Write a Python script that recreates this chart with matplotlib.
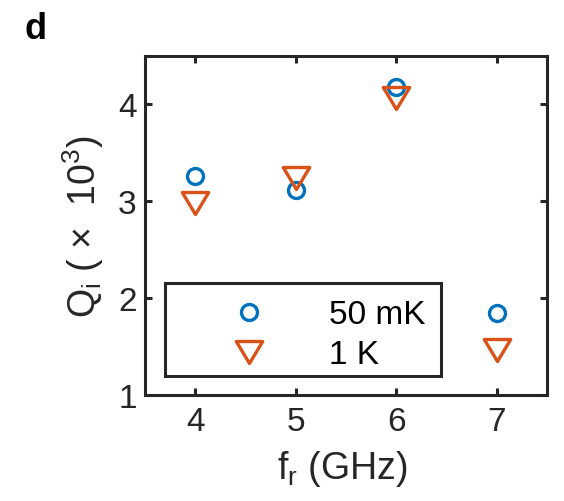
import matplotlib
matplotlib.use("Agg")
import matplotlib.pyplot as plt
from matplotlib.path import Path
from matplotlib.patches import Rectangle

plt.rcParams['font.family'] = ['Liberation Sans', 'DejaVu Sans']
plt.rcParams['mathtext.fontset'] = 'custom'
plt.rcParams['mathtext.rm'] = 'Liberation Sans'
plt.rcParams['mathtext.it'] = 'Liberation Sans:italic'

# Resonance frequency (GHz) and internal quality factor (x 10^3)
freq = [4, 5, 6, 7]
qi_50mk = [3.26, 3.12, 4.18, 1.85]
qi_1k = [2.98, 3.24, 4.07, 1.46]
series_labels = ['50 mK', '1 K']
xticks = [4, 5, 6, 7]
yticks = [1, 2, 3, 4]

blue = '#0072BD'
orange = '#D95319'
ink = '#262626'

# wide downward triangle, MATLAB-like
tri = Path([(-1.2, 1.0), (1.2, 1.0), (0.0, -1.0), (-1.2, 1.0)],
           [Path.MOVETO, Path.LINETO, Path.LINETO, Path.CLOSEPOLY])

W, H = 564, 502
fig = plt.figure(figsize=(W / 100, H / 100), dpi=100)
ax = fig.add_axes([145 / W, 1 - 396 / H, 402 / W, 339 / H])

ax.plot(freq, qi_50mk, linestyle='none', marker='o', markersize=11.5,
        markerfacecolor='none', markeredgecolor=blue, markeredgewidth=2.4,
        label=series_labels[0])
ax.plot(freq, qi_1k, linestyle='none', marker=tri, markersize=19,
        markerfacecolor='none', markeredgecolor=orange, markeredgewidth=2.4,
        label=series_labels[1])

ax.set_xlim(3.5, 7.5)
ax.set_ylim(1, 4.5)
ax.set_xticks(xticks)
ax.set_yticks(yticks)

for s in ax.spines.values():
    s.set_linewidth(2.2)
    s.set_color(ink)
ax.tick_params(direction='in', length=5, width=2.2, color=ink,
               labelsize=24, top=True, right=True, pad=8, labelcolor=ink)
ax.tick_params(axis='y', pad=6)

ax.set_xlabel(r'f$_\mathregular{r}$ (GHz)', fontsize=27, color=ink)
ax.xaxis.set_label_coords(0.492, -0.155)
ax.set_ylabel('Q$_\\mathregular{i}$ ( \u00d7  10$^\\mathregular{3}$)', fontsize=27,
              color=ink)
ax.yaxis.set_label_coords(-0.097, 0.5)

leg = ax.legend(loc='upper left', bbox_to_anchor=(0.0498, 0.307), borderaxespad=0,
                fontsize=24, frameon=False,
                handlelength=4.54, handletextpad=0.13, borderpad=0.25,
                labelspacing=0.27)
for t in leg.get_texts():
    t.set_color('black')

# legend box
ax.add_patch(Rectangle((0.0498, 0.056), 0.686, 0.274, transform=ax.transAxes,
                       fill=False, edgecolor=ink, linewidth=2.2, zorder=5))

fig.text(25 / W, 1 - 39 / H, 'd', fontsize=26, fontweight='bold', va='baseline')

fig.savefig('out.png', dpi=100)
